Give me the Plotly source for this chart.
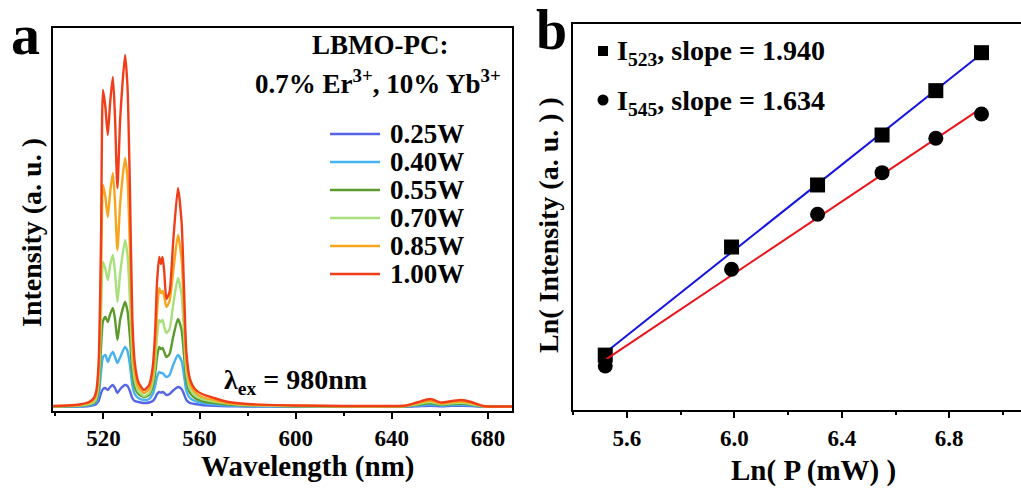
import numpy as np
import plotly.graph_objects as go

W, H = 1021, 488
FONT = "Liberation Serif"

# ---------------- Panel a data ----------------
wavelength = [499, 505, 510, 514, 516, 517, 518, 519, 519.8, 520.8, 521.8, 522.8, 523.9, 524.8,
              525.8, 527, 529, 530, 531, 532, 533, 534.5, 536.8, 539, 540.5, 541.5, 542.3, 543.2,
              543.9, 544.6, 545.3, 546.2, 547.5, 549, 551, 552.5, 553.5, 554.5, 556, 558, 561, 566,
              572, 580, 600, 620, 640, 646, 651, 656, 660.5, 665, 669, 673, 678, 690]

int_025 = [0.2, 0.3, 0.5, 1, 1.8, 3, 6, 14, 18, 19, 17, 20, 22, 19, 14, 18, 22, 21, 16, 9, 6, 5, 4,
           4.5, 6, 9, 13, 15, 14.5, 15, 14, 12, 13, 16.5, 20, 18, 13, 7, 4, 3, 2, 1.3, 0.8, 0.5, 0.3,
           0.2, 0.2, 0.3, 0.8, 1.3, 0.8, 1.1, 1.2, 0.9, 0.2, 0.1]
int_040 = [0.3, 0.5, 0.8, 1.8, 3, 5, 12, 35, 50, 52, 45, 51, 55, 50, 44, 50, 60, 56, 42, 22, 13, 9, 7,
           8, 13, 21, 30, 35, 34, 34, 32, 30, 32, 42, 52, 46, 32, 16, 9, 6, 4, 2.5, 1.5, 1, 0.5, 0.4,
           0.4, 0.6, 1.5, 2.5, 1.5, 2, 2.2, 1.6, 0.4, 0.2]
int_055 = [0.5, 0.8, 1.2, 2.5, 4, 7, 18, 60, 86, 90, 85, 93, 99, 88, 67, 88, 105, 96, 70, 35, 20, 13,
           10, 12, 20, 33, 50, 60, 58, 59, 55, 50, 53, 70, 88, 77, 52, 26, 14, 9, 6, 4, 2.5, 1.5, 0.8,
           0.5, 0.5, 0.8, 2.3, 3.8, 2.2, 3, 3.3, 2.4, 0.5, 0.3]
int_070 = [0.6, 1, 1.5, 3, 5, 9, 25, 90, 145, 138, 127, 142, 152, 135, 105, 135, 167, 152, 108, 50,
           27, 16, 11, 14, 25, 44, 70, 87, 85, 87, 80, 74, 78, 102, 129, 112, 75, 35, 18, 12, 8, 5.5,
           3.5, 2, 1, 0.6, 0.6, 1, 3, 5, 2.8, 3.8, 4.2, 3, 0.6, 0.3]
int_085 = [0.8, 1.2, 2, 4, 7, 12, 35, 130, 222, 210, 190, 215, 234, 205, 157, 205, 249, 228, 160, 70,
           36, 20, 14, 18, 32, 58, 95, 119, 114, 116, 110, 100, 106, 135, 172, 148, 98, 45, 23, 15,
           10, 7, 4, 2.5, 1.2, 0.8, 0.8, 1.2, 4, 6.5, 3.5, 5, 5.5, 4, 0.8, 0.4]
int_100 = [1, 1.5, 2.5, 5, 9, 16, 45, 170, 317, 300, 272, 305, 330, 290, 219, 290, 352, 320, 220, 90,
           45, 25, 17, 22, 40, 75, 125, 150, 143, 150, 135, 108, 115, 165, 219, 185, 120, 55, 28, 18,
           13, 9, 5, 3, 1.5, 1, 1, 1.5, 5, 8, 4.5, 6, 7, 5, 1, 0.5]

power_labels = ["0.25W", "0.40W", "0.55W", "0.70W", "0.85W", "1.00W"]
spectra = [int_025, int_040, int_055, int_070, int_085, int_100]
colors = ["#5565e6", "#46b2f0", "#5b9a2e", "#a8e07c", "#f5a61e", "#f03e1a"]

wl_major = [520, 560, 600, 640, 680]
wl_minor = [500, 540, 580, 620, 660]

# ---------------- Panel b data ----------------
ln_power = [5.52, 5.99, 6.31, 6.55, 6.75, 6.92]
ln_i523 = [10.49, 11.455, 12.009, 12.455, 12.851, 13.19]
ln_i545 = [10.393, 11.256, 11.747, 12.119, 12.426, 12.643]
legend_b = ["I<sub>523</sub>, slope = 1.940", "I<sub>545</sub>, slope = 1.634"]
lnp_major = [5.6, 6.0, 6.4, 6.8]
lnp_minor = [5.4, 5.8, 6.2, 6.6, 7.0]


def px(x):
    return x / W


def py(y):
    return 1 - y / H


fig = go.Figure()

for lab, ys, c in zip(power_labels, spectra, colors):
    fig.add_trace(go.Scatter(x=wavelength, y=ys, mode="lines", name=lab,
                             line=dict(color=c, width=2.4, shape="spline", smoothing=0.6),
                             xaxis="x", yaxis="y", showlegend=False))

xb = np.array(ln_power)
for ys, col, sym in [(ln_i523, "#1414e0", "square"), (ln_i545, "#e8161c", "circle")]:
    k, b = np.polyfit(xb, np.array(ys), 1)
    xe = np.array([xb.min(), xb.max()])
    fig.add_trace(go.Scatter(x=xe, y=k * xe + b, mode="lines", line=dict(color=col, width=2),
                             xaxis="x2", yaxis="y2", showlegend=False))
    fig.add_trace(go.Scatter(x=ln_power, y=ys, mode="markers",
                             marker=dict(symbol=sym, size=15, color="black"),
                             xaxis="x2", yaxis="y2", showlegend=False))

tickfont = dict(family=FONT, size=23, color="black", weight="bold")
common_x = dict(showline=True, linecolor="black", linewidth=2, mirror=True, ticks="outside",
                ticklen=6, tickwidth=2, tickcolor="black", showgrid=False, zeroline=False,
                tickfont=tickfont, tickmode="array")
minor_style = dict(ticks="outside", ticklen=3, tickwidth=2, tickcolor="black", showgrid=False,
                   tickmode="array")

fig.update_layout(
    width=W, height=H, margin=dict(l=0, r=0, t=0, b=0),
    paper_bgcolor="white", plot_bgcolor="white",
    xaxis=dict(domain=[px(53), px(512)], range=[499, 690], tickvals=wl_major,
               ticktext=[str(v) for v in wl_major],
               minor=dict(tickvals=wl_minor, **minor_style), anchor="y", **common_x),
    yaxis=dict(domain=[py(410.5), py(28)], range=[-3.5, 379], showline=True, linecolor="black",
               linewidth=2, mirror=True, ticks="", showticklabels=False, showgrid=False,
               zeroline=False, anchor="x"),
    xaxis2=dict(domain=[px(573), 1.0], range=[5.4, 7.067], tickvals=lnp_major,
                ticktext=[f"{v:.1f}" for v in lnp_major],
                minor=dict(tickvals=lnp_minor, **minor_style), anchor="y2", **common_x),
    yaxis2=dict(domain=[py(410), py(24)], range=[10.0, 13.446], showline=True, linecolor="black",
                linewidth=2, mirror=False, ticks="", showticklabels=False, showgrid=False,
                zeroline=False, anchor="x2"),
)

ann = []
bold = dict(family=FONT, color="black", weight="bold")


def text(x, y, s, size, xanchor="center", angle=0):
    ann.append(dict(x=px(x), y=py(y), xref="paper", yref="paper", text=s, showarrow=False,
                    xanchor=xanchor, yanchor="middle", textangle=angle,
                    font=dict(size=size, **bold)))


# panel letters
text(25, 34, "a", 58)
text(551, 30, "b", 56)
# axis titles
text(307, 466, "Wavelength (nm)", 29)
text(31, 233, "Intensity (a. u. )", 28, angle=-90)
text(813, 470, "Ln( P (mW) )", 29)
text(548, 225, "Ln( Intensity (a. u. ) )", 28, angle=-90)
# panel a annotations
text(380, 45, "LBMO-PC:", 27)
text(378, 82, "0.7% Er<sup>3+</sup>, 10% Yb<sup>3+</sup>", 27)
text(222, 381, "λ<sub>ex</sub> = 980nm", 28, xanchor="left")

shapes = []
for i, (lab, c) in enumerate(zip(power_labels, colors)):
    yy = 134 + 28 * i
    shapes.append(dict(type="line", xref="paper", yref="paper", x0=px(330), x1=px(380),
                       y0=py(yy), y1=py(yy), line=dict(color=c, width=2.4)))
    text(388, yy, lab, 27, xanchor="left")

# panel b legend
for i, lab in enumerate(legend_b):
    yy = 51 + 49 * i
    if i == 0:
        shapes.append(dict(type="rect", xref="paper", yref="paper", x0=px(598), x1=px(608),
                           y0=py(56), y1=py(46), fillcolor="black", line=dict(width=0)))
    else:
        shapes.append(dict(type="circle", xref="paper", yref="paper", x0=px(597.5), x1=px(608.5),
                           y0=py(yy + 5.5), y1=py(yy - 5.5), fillcolor="black", line=dict(width=0)))
    text(615, yy + 2, lab, 28, xanchor="left")

fig.update_layout(annotations=ann, shapes=shapes)
fig.write_html("out.html")
